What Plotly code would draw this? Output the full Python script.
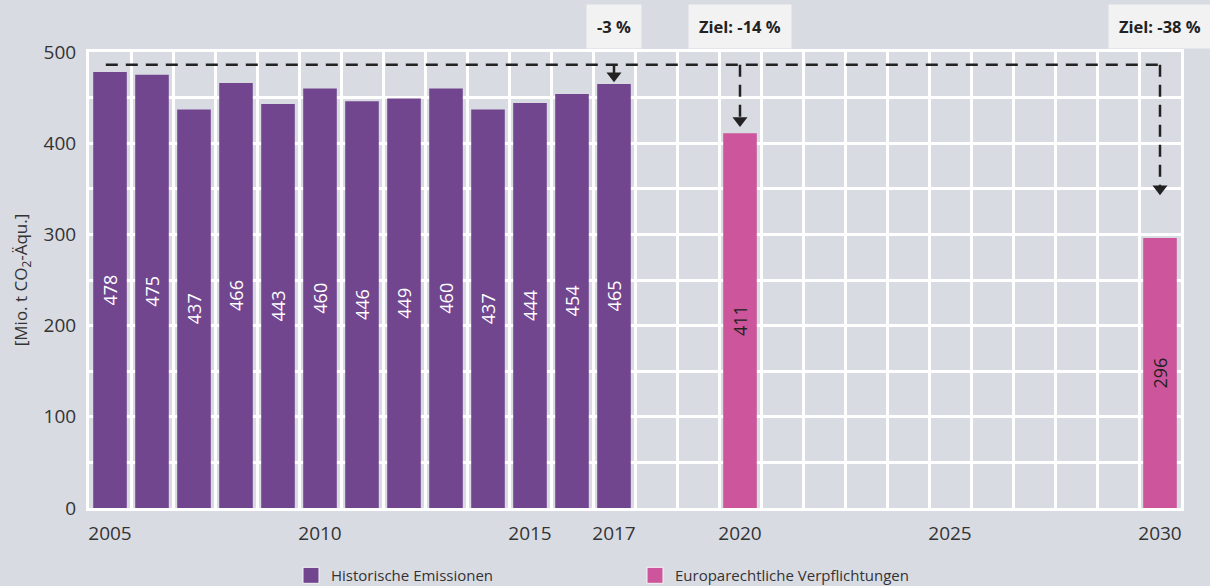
import plotly.graph_objects as go

hist_years = [2005, 2006, 2007, 2008, 2009, 2010, 2011, 2012, 2013, 2014, 2015, 2016, 2017]
hist_values = [478, 475, 437, 466, 443, 460, 446, 449, 460, 437, 444, 454, 465]
target_years = [2020, 2030]
target_values = [411, 296]
tick_years = [2005, 2010, 2015, 2017, 2020, 2025, 2030]
ref_level = 486
arrow_years = [2017, 2020, 2030]
arrow_tips = [469, 420, 345]
box_labels = ["<b>-3 %</b>", "<b>Ziel: -14 %</b>", "<b>Ziel: -38 %</b>"]
series_names = ["Historische Emissionen", "Europarechtliche Verpflichtungen"]

BG = "#d9dbe3"
PURPLE = "#71468f"
PINK = "#cd559b"
FONT = "Open Sans"
TXT = "#333333"

fig = go.Figure()
fig.add_bar(x=hist_years, y=hist_values, name=series_names[0], showlegend=False,
            marker=dict(color=PURPLE, line=dict(width=0)), width=0.8,
            text=hist_values, textposition="inside", insidetextanchor="middle",
            textangle=-90, textfont=dict(color="white", size=18, family=FONT))
fig.add_bar(x=target_years, y=target_values, name=series_names[1], showlegend=False,
            marker=dict(color=PINK, line=dict(width=0)), width=0.8,
            text=target_values, textposition="inside", insidetextanchor="middle",
            textangle=-90, textfont=dict(color="#222222", size=18, family=FONT))

# legend entries with larger square symbols
for nm, col in zip(series_names, [PURPLE, PINK]):
    fig.add_scatter(x=[None], y=[None], mode="markers", name=nm,
                    marker=dict(symbol="square", size=16, color=col,
                                line=dict(color="#f4f4f6", width=1)))

# dashed reference path
xs = [hist_years[0] - 0.1, arrow_years[-1], None]
ys = [ref_level, ref_level, None]
for yr, tip in zip(arrow_years, arrow_tips):
    xs += [yr, yr, None]
    ys += [ref_level, tip + 8, None]
fig.add_scatter(x=xs, y=ys, mode="lines", showlegend=False, hoverinfo="skip",
                line=dict(color="#222222", width=2.5, dash="12px,8px"))
fig.add_scatter(x=arrow_years, y=[t + 5 for t in arrow_tips], mode="markers",
                showlegend=False, hoverinfo="skip",
                marker=dict(symbol="triangle-down", size=13, color="#222222"))

for yr, lab in zip(arrow_years, box_labels):
    fig.add_annotation(x=yr, xref="x", y=1.055, yref="paper", yanchor="middle",
                       text=lab, showarrow=False,
                       font=dict(family=FONT, size=16.5, color="#222222"),
                       bgcolor="#f2f2f3", borderpad=10)

fig.update_layout(
    width=1210, height=586,
    paper_bgcolor=BG, plot_bgcolor=BG,
    margin=dict(l=89, r=29, t=52, b=78, autoexpand=False),
    font=dict(family=FONT, size=19, color=TXT),
    barmode="overlay",
    showlegend=True,
    legend=dict(orientation="h", x=0.5, xanchor="center", y=-0.112, yanchor="top",
                font=dict(size=15, color=TXT), itemwidth=30, traceorder="normal",
                entrywidthmode="pixels", entrywidth=299, bgcolor="rgba(0,0,0,0)"),
)
fig.update_xaxes(range=[2004.5, 2030.5], tickvals=tick_years, ticktext=[str(t) for t in tick_years],
                 showgrid=False, zeroline=False,
                 showline=True, linecolor="white", linewidth=3, mirror=True,
                 ticks="", ticklabelstandoff=6, tickfont=dict(size=19, color=TXT),
                 minor=dict(tick0=2004.5, dtick=1, showgrid=True, gridcolor="white", gridwidth=2.5))
fig.update_yaxes(range=[0, 500], dtick=100, showgrid=True, gridcolor="white", gridwidth=2.5,
                 zeroline=False, showline=True, linecolor="white", linewidth=3, mirror=True,
                 ticks="", ticklabelstandoff=6, tickfont=dict(size=19, color=TXT),
                 minor=dict(dtick=50, showgrid=True, gridcolor="white", gridwidth=2.5),
                 title=dict(text="[Mio. t CO<sub>2</sub>-Äqu.]", font=dict(size=17, color=TXT), standoff=12))

fig.write_html("out.html", config={"displayModeBar": False},
               post_script="document.body.style.margin='0';document.body.style.overflow='hidden';")
